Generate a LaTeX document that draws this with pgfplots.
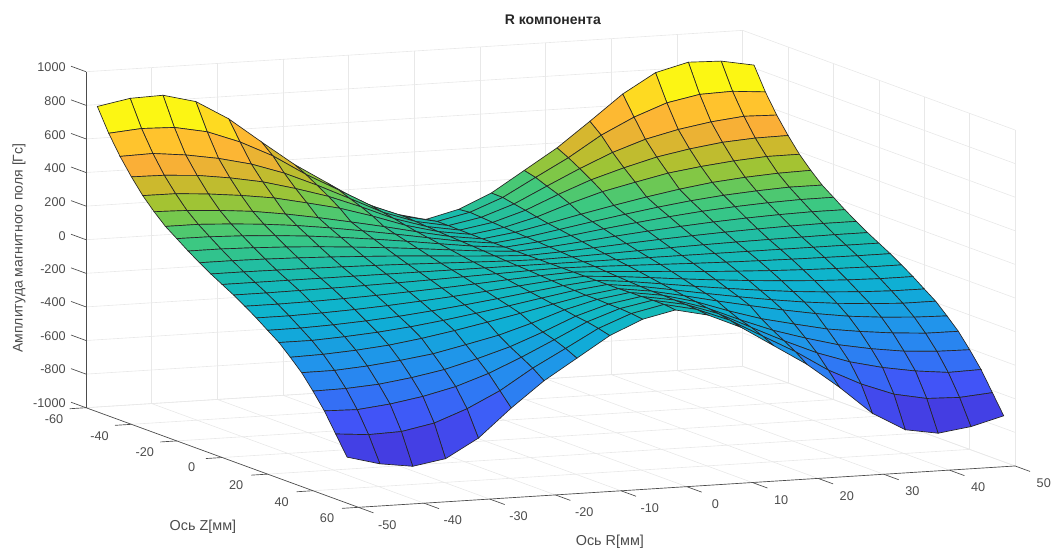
\documentclass[border=0pt]{standalone}
\usepackage{fontspec}
\setmainfont{Liberation Sans}
\usepackage{pgfplots}
\pgfplotsset{compat=1.18}
\definecolor{axc}{gray}{0.3}
\pgfplotsset{colormap={parulaish}{
rgb255(0pt)=(62,45,200);
rgb255(9.6pt)=(68,60,225);
rgb255(25.5pt)=(65,85,248);
rgb255(37pt)=(50,115,245);
rgb255(45.5pt)=(40,135,240);
rgb255(52.5pt)=(33,148,235);
rgb255(59pt)=(25,158,225);
rgb255(64pt)=(18,168,218);
rgb255(69pt)=(15,175,212);
rgb255(74pt)=(15,180,205);
rgb255(78pt)=(17,183,195);
rgb255(82pt)=(20,185,185);
rgb255(86pt)=(25,187,172);
rgb255(90pt)=(35,190,160);
rgb255(94pt)=(48,195,142);
rgb255(99pt)=(60,200,130);
rgb255(104pt)=(80,200,110);
rgb255(109.5pt)=(120,200,75);
rgb255(116pt)=(165,195,50);
rgb255(124pt)=(205,185,45);
rgb255(133pt)=(250,175,55);
rgb255(144pt)=(255,195,45);
rgb255(156pt)=(252,245,20);
rgb255(167pt)=(250,252,15)
}}
\begin{document}
\begin{tikzpicture}
\path[use as bounding box] (-412.9125pt,-210.1125pt) rectangle (375.3375pt,201.6375pt);
\begin{axis}[
  anchor=origin, at={(0pt,0pt)},
  y dir=reverse,
  x={(4.925pt,0.310pt)}, y={(-1.7025pt,0.6225pt)}, z={(0pt,0.126pt)},
  xmin=-50,xmax=50,ymin=-60,ymax=60,zmin=-1000,zmax=1000,
  xtick={-50,-40,...,50}, ytick={-60,-40,...,60}, ztick={-1000,-800,...,1000},
  xticklabels={-50,-40,-30,-20,-10,0,10,20,30,40,50},
  yticklabels={-60,-40,-20,0,20,40,60},
  zticklabels={-1000,-800,-600,-400,-200,0,200,400,600,800,1000},
  grid=major, grid style={black!9,line width=.45pt},
  axis line style={draw=none},
  tick align=outside, major tick length=12pt,
  tick style={draw=none},
  tick label style={font=\fontsize{9.5}{11}\selectfont,text=axc},
  xticklabel style={xshift=5.25pt,yshift=-1.7pt},
  yticklabel style={xshift=-4.5pt},
  zticklabel style={yshift=-2.6pt,xshift=-.5pt},
  clip=false,
  colormap name=parulaish,
  point meta min=-810, point meta max=860,
  title={\textbf{R компонента}},
  title style={at={(axis cs:21.1,-60,1085)},anchor=center,font=\fontsize{10.5}{12}\selectfont,text=black!85},
  xlabel={Ось R[мм]},
  xlabel style={at={(axis cs:-29.65,111.9,-1000)},anchor=center,font=\fontsize{10.8}{12}\selectfont,text=axc},
  ylabel={Ось Z[мм]},
  ylabel style={at={(axis cs:-77.2,70.2,-1000)},anchor=center,rotate=0,font=\fontsize{10.8}{12}\selectfont,text=axc},
  zlabel={Амплитуда магнитного поля [Гс]},
  zlabel style={at={(axis cs:-60.2,-60,-25)},anchor=center,rotate=0,font=\fontsize{10.5}{12}\selectfont,text=axc},
]
\addplot3[surf, shader=faceted, faceted color=black!85, line width=.5pt, mesh/rows=23, mesh/cols=21, mesh/ordering=x varies, opacity=1] coordinates {
(-50,-55,818)(-45,-55,854)(-40,-55,860)(-35,-55,810)(-30,-55,695)(-25,-55,545)(-20,-55,399)(-15,-55,277)(-10,-55,155)(-5,-55,70)(0,-55,22)(5,-55,70)(10,-55,155)(15,-55,277)(20,-55,399)(25,-55,545)(30,-55,695)(35,-55,810)(40,-55,860)(45,-55,854)(50,-55,818)
(-50,-50,683)(-45,-50,699)(-40,-50,693)(-35,-50,655)(-30,-50,582)(-25,-50,487)(-20,-50,365)(-15,-50,260)(-10,-50,153)(-5,-50,77)(0,-50,35)(5,-50,77)(10,-50,153)(15,-50,260)(20,-50,365)(25,-50,487)(30,-50,582)(35,-50,655)(40,-50,693)(45,-50,699)(50,-50,683)
(-50,-45,570)(-45,-45,575)(-40,-45,554)(-35,-45,521)(-30,-45,475)(-25,-45,409)(-20,-45,325)(-15,-45,233)(-10,-45,139)(-5,-45,72)(0,-45,35)(5,-45,72)(10,-45,139)(15,-45,233)(20,-45,325)(25,-45,409)(30,-45,475)(35,-45,521)(40,-45,554)(45,-45,575)(50,-45,570)
(-50,-40,473)(-45,-40,470)(-40,-40,457)(-35,-40,430)(-30,-40,394)(-25,-40,342)(-20,-40,283)(-15,-40,208)(-10,-40,126)(-5,-40,66)(0,-40,33)(5,-40,66)(10,-40,126)(15,-40,208)(20,-40,283)(25,-40,342)(30,-40,394)(35,-40,430)(40,-40,457)(45,-40,470)(50,-40,473)
(-50,-35,386)(-45,-35,385)(-40,-35,371)(-35,-35,350)(-30,-35,323)(-25,-35,281)(-20,-35,237)(-15,-35,178)(-10,-35,111)(-5,-35,61)(0,-35,32)(5,-35,61)(10,-35,111)(15,-35,178)(20,-35,237)(25,-35,281)(30,-35,323)(35,-35,350)(40,-35,371)(45,-35,385)(50,-35,386)
(-50,-30,315)(-45,-30,310)(-40,-30,298)(-35,-30,280)(-30,-30,252)(-25,-30,218)(-20,-30,180)(-15,-30,140)(-10,-30,97)(-5,-30,57)(0,-30,30)(5,-30,57)(10,-30,97)(15,-30,140)(20,-30,180)(25,-30,218)(30,-30,252)(35,-30,280)(40,-30,298)(45,-30,310)(50,-30,315)
(-50,-25,252)(-45,-25,252)(-40,-25,242)(-35,-25,228)(-30,-25,208)(-25,-25,182)(-20,-25,152)(-15,-25,120)(-10,-25,86)(-5,-25,53)(0,-25,30)(5,-25,53)(10,-25,86)(15,-25,120)(20,-25,152)(25,-25,182)(30,-25,208)(35,-25,228)(40,-25,242)(45,-25,252)(50,-25,252)
(-50,-20,204)(-45,-20,203)(-40,-20,196)(-35,-20,185)(-30,-20,170)(-25,-20,150)(-20,-20,127)(-15,-20,102)(-10,-20,75)(-5,-20,49)(0,-20,30)(5,-20,49)(10,-20,75)(15,-20,102)(20,-20,127)(25,-20,150)(30,-20,170)(35,-20,185)(40,-20,196)(45,-20,203)(50,-20,204)
(-50,-15,155)(-45,-15,155)(-40,-15,150)(-35,-15,142)(-30,-15,131)(-25,-15,117)(-20,-15,101)(-15,-15,83)(-10,-15,63)(-5,-15,44)(0,-15,30)(5,-15,44)(10,-15,63)(15,-15,83)(20,-15,101)(25,-15,117)(30,-15,131)(35,-15,142)(40,-15,150)(45,-15,155)(50,-15,155)
(-50,-10,110)(-45,-10,110)(-40,-10,107)(-35,-10,102)(-30,-10,95)(-25,-10,86)(-20,-10,76)(-15,-10,64)(-10,-10,51)(-5,-10,39)(0,-10,30)(5,-10,39)(10,-10,51)(15,-10,64)(20,-10,76)(25,-10,86)(30,-10,95)(35,-10,102)(40,-10,107)(45,-10,110)(50,-10,110)
(-50,-5,68)(-45,-5,68)(-40,-5,66)(-35,-5,64)(-30,-5,61)(-25,-5,57)(-20,-5,52)(-15,-5,46)(-10,-5,40)(-5,-5,34)(0,-5,30)(5,-5,34)(10,-5,40)(15,-5,46)(20,-5,52)(25,-5,57)(30,-5,61)(35,-5,64)(40,-5,66)(45,-5,68)(50,-5,68)
(-50,0,30)(-45,0,30)(-40,0,30)(-35,0,30)(-30,0,30)(-25,0,30)(-20,0,30)(-15,0,30)(-10,0,30)(-5,0,30)(0,0,30)(5,0,30)(10,0,30)(15,0,30)(20,0,30)(25,0,30)(30,0,30)(35,0,30)(40,0,30)(45,0,30)(50,0,30)
(-50,5,-8)(-45,5,-8)(-40,5,-6)(-35,5,-4)(-30,5,-1)(-25,5,3)(-20,5,8)(-15,5,14)(-10,5,20)(-5,5,26)(0,5,30)(5,5,26)(10,5,20)(15,5,14)(20,5,8)(25,5,3)(30,5,-1)(35,5,-4)(40,5,-6)(45,5,-8)(50,5,-8)
(-50,10,-50)(-45,10,-50)(-40,10,-47)(-35,10,-42)(-30,10,-35)(-25,10,-26)(-20,10,-16)(-15,10,-4)(-10,10,9)(-5,10,21)(0,10,30)(5,10,21)(10,10,9)(15,10,-4)(20,10,-16)(25,10,-26)(30,10,-35)(35,10,-42)(40,10,-47)(45,10,-50)(50,10,-50)
(-50,15,-95)(-45,15,-95)(-40,15,-90)(-35,15,-82)(-30,15,-71)(-25,15,-57)(-20,15,-41)(-15,15,-23)(-10,15,-3)(-5,15,16)(0,15,30)(5,15,16)(10,15,-3)(15,15,-23)(20,15,-41)(25,15,-57)(30,15,-71)(35,15,-82)(40,15,-90)(45,15,-95)(50,15,-95)
(-50,20,-144)(-45,20,-143)(-40,20,-136)(-35,20,-125)(-30,20,-110)(-25,20,-90)(-20,20,-67)(-15,20,-42)(-10,20,-15)(-5,20,11)(0,20,30)(5,20,11)(10,20,-15)(15,20,-42)(20,20,-67)(25,20,-90)(30,20,-110)(35,20,-125)(40,20,-136)(45,20,-143)(50,20,-144)
(-50,25,-192)(-45,25,-192)(-40,25,-182)(-35,25,-168)(-30,25,-148)(-25,25,-122)(-20,25,-92)(-15,25,-60)(-10,25,-26)(-5,25,7)(0,25,30)(5,25,7)(10,25,-26)(15,25,-60)(20,25,-92)(25,25,-122)(30,25,-148)(35,25,-168)(40,25,-182)(45,25,-192)(50,25,-192)
(-50,30,-255)(-45,30,-250)(-40,30,-238)(-35,30,-220)(-30,30,-192)(-25,30,-158)(-20,30,-120)(-15,30,-80)(-10,30,-37)(-5,30,3)(0,30,30)(5,30,3)(10,30,-37)(15,30,-80)(20,30,-120)(25,30,-158)(30,30,-192)(35,30,-220)(40,30,-238)(45,30,-250)(50,30,-255)
(-50,35,-322)(-45,35,-321)(-40,35,-307)(-35,35,-286)(-30,35,-259)(-25,35,-217)(-20,35,-173)(-15,35,-114)(-10,35,-47)(-5,35,3)(0,35,32)(5,35,3)(10,35,-47)(15,35,-114)(20,35,-173)(25,35,-217)(30,35,-259)(35,35,-286)(40,35,-307)(45,35,-321)(50,35,-322)
(-50,40,-407)(-45,40,-404)(-40,40,-391)(-35,40,-364)(-30,40,-328)(-25,40,-276)(-20,40,-217)(-15,40,-142)(-10,40,-60)(-5,40,0)(0,40,33)(5,40,0)(10,40,-60)(15,40,-142)(20,40,-217)(25,40,-276)(30,40,-328)(35,40,-364)(40,40,-391)(45,40,-404)(50,40,-407)
(-50,45,-500)(-45,45,-505)(-40,45,-484)(-35,45,-451)(-30,45,-405)(-25,45,-339)(-20,45,-255)(-15,45,-163)(-10,45,-69)(-5,45,-2)(0,45,35)(5,45,-2)(10,45,-69)(15,45,-163)(20,45,-255)(25,45,-339)(30,45,-405)(35,45,-451)(40,45,-484)(45,45,-505)(50,45,-500)
(-50,50,-613)(-45,50,-629)(-40,50,-623)(-35,50,-585)(-30,50,-512)(-25,50,-417)(-20,50,-295)(-15,50,-190)(-10,50,-83)(-5,50,-7)(0,50,35)(5,50,-7)(10,50,-83)(15,50,-190)(20,50,-295)(25,50,-417)(30,50,-512)(35,50,-585)(40,50,-623)(45,50,-629)(50,50,-613)
(-50,55,-726)(-45,55,-778)(-40,55,-805)(-35,55,-772)(-30,55,-662)(-25,55,-495)(-20,55,-345)(-15,55,-223)(-10,55,-101)(-5,55,-16)(0,55,27)(5,55,-16)(10,55,-101)(15,55,-223)(20,55,-345)(25,55,-495)(30,55,-662)(35,55,-772)(40,55,-805)(45,55,-778)(50,55,-726)
};
\draw[axc,line width=.5pt] (axis cs:-50,-60,-1000)--(axis cs:-50,-60,1000);
\draw[axc,line width=.5pt] (axis cs:-50,-60,-1000)--(axis cs:-50,60,-1000)--(axis cs:50,60,-1000);
\draw[axc,line width=.5pt] (axis cs:-50,60,-1000)--(axis cs:-50,66.6,-1000) (axis cs:-40,60,-1000)--(axis cs:-40,66.6,-1000) (axis cs:-30,60,-1000)--(axis cs:-30,66.6,-1000) (axis cs:-20,60,-1000)--(axis cs:-20,66.6,-1000) (axis cs:-10,60,-1000)--(axis cs:-10,66.6,-1000) (axis cs:0,60,-1000)--(axis cs:0,66.6,-1000) (axis cs:10,60,-1000)--(axis cs:10,66.6,-1000) (axis cs:20,60,-1000)--(axis cs:20,66.6,-1000) (axis cs:30,60,-1000)--(axis cs:30,66.6,-1000) (axis cs:40,60,-1000)--(axis cs:40,66.6,-1000) (axis cs:50,60,-1000)--(axis cs:50,66.6,-1000);
\draw[axc,line width=.5pt] (axis cs:-50,-60,-1000)--(axis cs:-52.5,-60,-1000) (axis cs:-50,-40,-1000)--(axis cs:-52.5,-40,-1000) (axis cs:-50,-20,-1000)--(axis cs:-52.5,-20,-1000) (axis cs:-50,0,-1000)--(axis cs:-52.5,0,-1000) (axis cs:-50,20,-1000)--(axis cs:-52.5,20,-1000) (axis cs:-50,40,-1000)--(axis cs:-52.5,40,-1000) (axis cs:-50,60,-1000)--(axis cs:-52.5,60,-1000);
\draw[axc,line width=.5pt] (axis cs:-50,-60,-1000)--(axis cs:-50,-66.6,-1000) (axis cs:-50,-60,-800)--(axis cs:-50,-66.6,-800) (axis cs:-50,-60,-600)--(axis cs:-50,-66.6,-600) (axis cs:-50,-60,-400)--(axis cs:-50,-66.6,-400) (axis cs:-50,-60,-200)--(axis cs:-50,-66.6,-200) (axis cs:-50,-60,0)--(axis cs:-50,-66.6,0) (axis cs:-50,-60,200)--(axis cs:-50,-66.6,200) (axis cs:-50,-60,400)--(axis cs:-50,-66.6,400) (axis cs:-50,-60,600)--(axis cs:-50,-66.6,600) (axis cs:-50,-60,800)--(axis cs:-50,-66.6,800) (axis cs:-50,-60,1000)--(axis cs:-50,-66.6,1000);
\end{axis}
\end{tikzpicture}
\end{document}
